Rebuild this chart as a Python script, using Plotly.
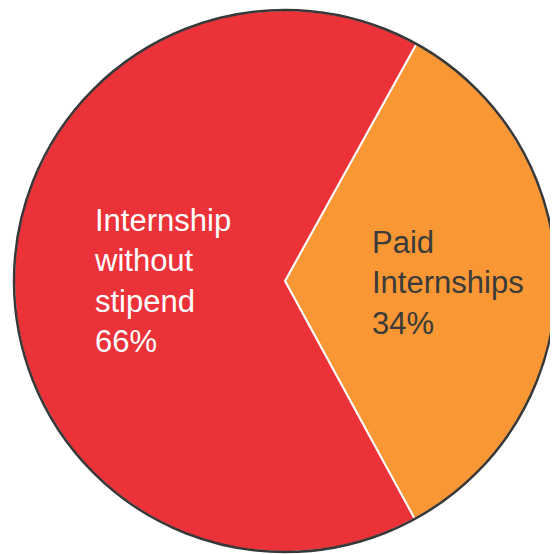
import plotly.graph_objects as go

labels = ["Paid<br>Internships", "Internship<br>without<br>stipend"]
values = [34, 66]
colors = ["#F89734", "#EC3239"]
text_colors = ["#3a3a3a", "#ffffff"]

fig = go.Figure()
fig.add_trace(go.Pie(
    labels=labels,
    values=values,
    sort=False,
    direction="clockwise",
    rotation=29,
    marker=dict(colors=colors, line=dict(color="#ffffff", width=2)),
    textinfo="none",
    hoverinfo="label+percent",
    showlegend=False,
))

# label positions (paper coords)
label_pos = [(0.657, 0.496), (0.144, 0.500)]
for lab, val, tc, (px, py) in zip(labels, values, text_colors, label_pos):
    fig.add_annotation(
        x=px, y=py, xref="paper", yref="paper",
        text=f"{lab}<br>{val}%",
        showarrow=False, align="left", xanchor="left", yanchor="middle",
        font=dict(family="Liberation Sans", size=31, color=tc),
    )

fig.add_shape(type="circle", xref="paper", yref="paper",
              x0=0, y0=0, x1=1, y1=1,
              line=dict(color="#383838", width=2.5), layer="above")

fig.update_layout(
    width=558, height=554,
    margin=dict(l=6, r=10, t=2, b=10),
    paper_bgcolor="white", plot_bgcolor="white",
)
fig.write_html("out.html")
